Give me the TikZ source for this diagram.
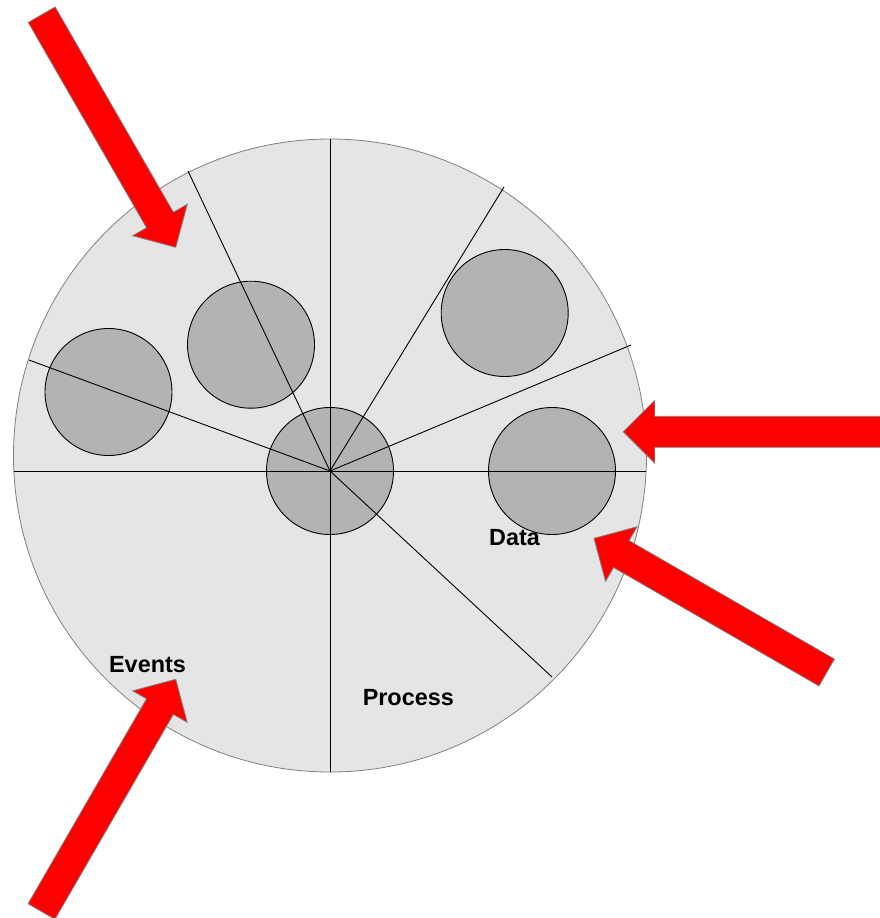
\documentclass[tikz,border=0pt]{standalone}
\usepackage{fontspec}
\setmainfont{Liberation Sans}
\usetikzlibrary{calc}
\definecolor{discfill}{HTML}{E5E5E5}
\definecolor{knobfill}{HTML}{B3B3B3}
\definecolor{arrred}{HTML}{FF0000}
\definecolor{edgegray}{HTML}{808080}
\newcommand\blockarrow[2]{%
  \coordinate (#1-base) at ($(#2)!31.5pt!(#1)$);
  \filldraw[redarrow]
    ($(#1)!15.5pt!90:(#2)$) --
    ($(#1-base)!15.5pt!90:(#2)$) --
    ($(#1-base)!31.5pt!90:(#2)$) --
    (#2) --
    ($(#1-base)!31.5pt!-90:(#2)$) --
    ($(#1-base)!15.5pt!-90:(#2)$) --
    ($(#1)!15.5pt!-90:(#2)$) -- cycle;
}
\begin{document}
\begin{tikzpicture}[x=1pt,y=-1pt,
  disc/.style={circle,draw=edgegray,fill=discfill,line width=0.8pt,inner sep=0,minimum size=633pt},
  knob/.style={circle,draw=black,fill=knobfill,line width=0.9pt,inner sep=0,minimum size=127pt},
  spoke/.style={draw=black,line width=0.9pt},
  redarrow/.style={fill=arrred,draw=edgegray,line width=0.8pt,line join=miter},
  lbl/.style={font=\fontsize{23.4}{28}\selectfont\bfseries,inner sep=0,anchor=base}]
\useasboundingbox (0,0) rectangle (880,918);

% disc
\node[disc] (disc) at (330,455.5) {};

% knobs
\node[knob] (hub) at (330,471) {};
\node[knob] (kleft) at (108.5,392) {};
\node[knob] (kupleft) at (251,344.7) {};
\node[knob] (kupright) at (504.7,313) {};
\node[knob] (kright) at (552,471) {};

% spoke ends
\coordinate (eW) at (14,471);
\coordinate (eE) at (646,471);
\coordinate (eN) at (330,139);
\coordinate (eS) at (330,772);
\coordinate (eNW) at (188,171);
\coordinate (eWNW) at (29,360);
\coordinate (eNE) at (504,187);
\coordinate (eENE) at (631,345);
\coordinate (eSE) at (552,677);

\draw[spoke] (eW) -- (eE);
\draw[spoke] (eN) -- (eS);
\draw[spoke] (hub.center) -- (eNW);
\draw[spoke] (hub.center) -- (eWNW);
\draw[spoke] (hub.center) -- (eNE);
\draw[spoke] (hub.center) -- (eENE);
\draw[spoke] (hub.center) -- (eSE);

% arrows
\coordinate (aTL) at (41.7,14.7);   \coordinate (hTL) at (175.7,247.3);
\coordinate (aR)  at (895,431.8);   \coordinate (hR)  at (623.3,431.8);
\coordinate (aBR) at (826.7,672.5); \coordinate (hBR) at (594,538.3);
\coordinate (aBL) at (41.5,911.5);  \coordinate (hBL) at (175.7,679.3);
\blockarrow{aTL}{hTL}
\blockarrow{aR}{hR}
\blockarrow{aBR}{hBR}
\blockarrow{aBL}{hBL}

% labels
\node[lbl] (events) at (147.5,672) {Events};
\node[lbl] (data) at (514.5,545.5) {Data};
\node[lbl] (process) at (408.3,705) {Process};
\end{tikzpicture}
\end{document}
